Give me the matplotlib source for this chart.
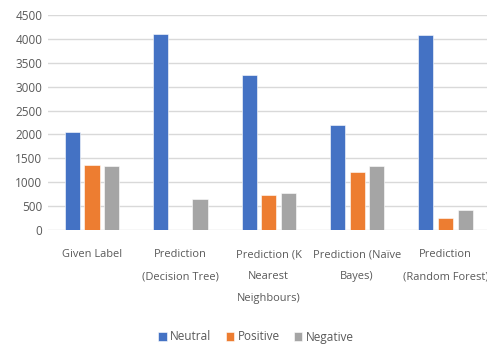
import matplotlib
matplotlib.use("Agg")
import matplotlib.pyplot as plt
import numpy as np

categories = ["Given Label", "Prediction\n(Decision Tree)", "Prediction (K\nNearest\nNeighbours)",
              "Prediction (Naïve\nBayes)", "Prediction\n(Random Forest)"]
series_names = ["Neutral", "Positive", "Negative"]
neutral = [2060, 4100, 3245, 2190, 4088]
positive = [1356, 0, 734, 1209, 245]
negative = [1335, 643, 769, 1341, 419]
yticks = [0, 500, 1000, 1500, 2000, 2500, 3000, 3500, 4000, 4500]
colors = ["#4472C4", "#ED7D31", "#A5A5A5"]

fig = plt.figure(figsize=(4.87, 3.46), dpi=100)
W, H = 487, 346
ax = fig.add_axes([47.8 / W, 1 - 229.8 / H, (489.7 - 47.8) / W, (229.8 - 15.3) / H])

x = np.arange(len(categories))
bw = 0.17
pitch = 0.222
for i, (vals, c, name) in enumerate(zip([neutral, positive, negative], colors, series_names)):
    ax.bar(x + (i - 1) * pitch, vals, width=bw, color=c, label=name, zorder=3,
           edgecolor="white", linewidth=0.4)

ax.set_xlim(-0.5, len(categories) - 0.5)
ax.set_ylim(0, 4500)
ax.set_yticks(yticks)
ax.yaxis.grid(True, color="#d9d9d9", linewidth=1.0, zorder=0)
for s in ax.spines.values():
    s.set_visible(False)
ax.tick_params(length=0, labelsize=8.5, colors="#595959", pad=4)
ax.set_xticks(x)
ax.set_xticklabels(categories, fontsize=7.9, color="#595959", linespacing=2.35, fontfamily="Open Sans")
for lab in ax.get_yticklabels():
    lab.set_fontfamily("Open Sans")
ax.tick_params(axis="x", pad=14)

leg = fig.legend(loc="center", bbox_to_anchor=(256 / W, 1 - 337 / H), ncol=3, frameon=False,
                 handlelength=0.7, handleheight=0.7, handletextpad=0.3,
                 columnspacing=1.2, prop={"family": "Open Sans", "size": 8.5})
for t in leg.get_texts():
    t.set_color("#595959")

fig.savefig("out.png", dpi=100)
